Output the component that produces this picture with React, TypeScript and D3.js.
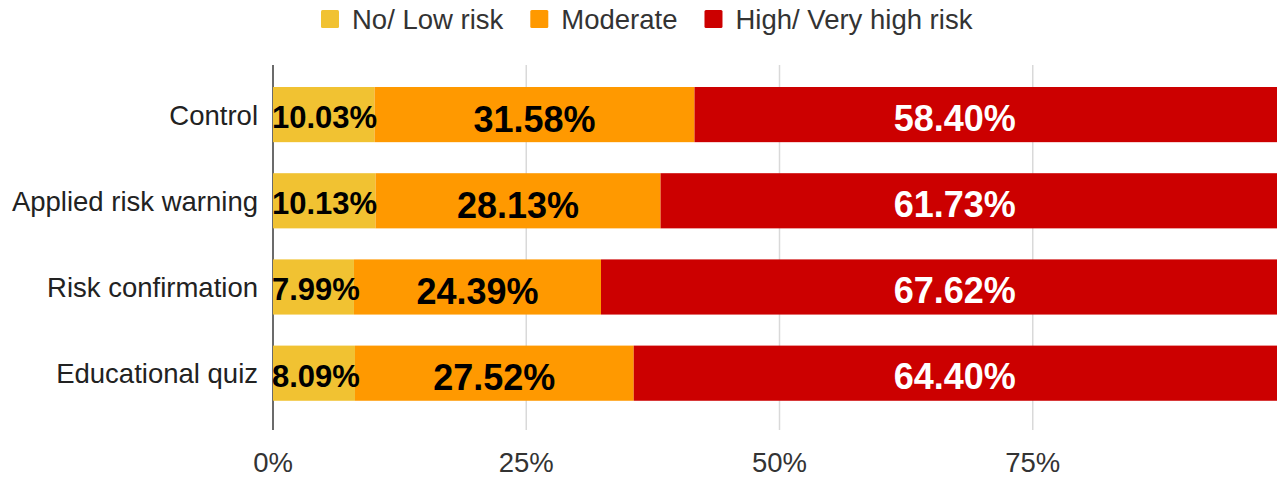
import React, { useEffect, useRef } from "react";
import * as d3 from "d3";

// Share of participants by risk level, per experimental condition (percent)
const categories = ["Control", "Applied risk warning", "Risk confirmation", "Educational quiz"];
const lowRisk = [10.03, 10.13, 7.99, 8.09];
const moderate = [31.58, 28.13, 24.39, 27.52];
const highRisk = [58.4, 61.73, 67.62, 64.4];
const seriesNames = ["No/ Low risk", "Moderate", "High/ Very high risk"];
const seriesKeys = ["low", "moderate", "high"];
const xTicks = [0, 25, 50, 75];

const WIDTH = 1277;
const HEIGHT = 477;
const FONT = "'Liberation Sans', Arial, sans-serif";
const COLORS: Record<string, string> = { low: "#f1c232", moderate: "#ff9900", high: "#cc0000" };

export default function App() {
  const ref = useRef<SVGSVGElement>(null);

  useEffect(() => {
    const svg = d3.select(ref.current);
    svg.selectAll("*").remove();

    const rows = categories.map((c, i) => ({
      category: c,
      low: lowRisk[i],
      moderate: moderate[i],
      high: highRisk[i],
    }));

    const x = d3.scaleLinear().domain([0, 100]).range([273, 1286]);
    const step = 86.2;
    const y = d3
      .scaleBand<string>()
      .domain(categories)
      .range([87 - 0.18 * step, 87 - 0.18 * step + 4 * step])
      .paddingInner(0.36)
      .paddingOuter(0.18);

    const axisTop = 65;
    const axisBottom = 430;

    // vertical gridlines
    svg
      .append("g")
      .selectAll("line")
      .data(xTicks.filter((t) => t !== 0))
      .join("line")
      .attr("x1", (d) => x(d))
      .attr("x2", (d) => x(d))
      .attr("y1", axisTop)
      .attr("y2", axisBottom)
      .attr("stroke", "#d9d9d9")
      .attr("stroke-width", 1.5);

    // zero baseline
    svg
      .append("line")
      .attr("x1", x(0))
      .attr("x2", x(0))
      .attr("y1", axisTop)
      .attr("y2", axisBottom)
      .attr("stroke", "#6b6b6b")
      .attr("stroke-width", 2);

    const stacked = d3.stack<any>().keys(seriesKeys)(rows);

    // stacked bars
    const layers = svg
      .append("g")
      .selectAll("g")
      .data(stacked)
      .join("g")
      .attr("fill", (d) => COLORS[d.key]);

    layers
      .selectAll("rect")
      .data((d) => d)
      .join("rect")
      .attr("x", (d) => x(d[0]))
      .attr("y", (d) => y(d.data.category)!)
      .attr("width", (d) => x(d[1]) - x(d[0]))
      .attr("height", y.bandwidth());

    // value labels
    const labels = svg.append("g").attr("font-family", FONT).attr("font-weight", "bold");
    const redLabelAt = 67.3;
    stacked.forEach((layer) => {
      layer.forEach((seg) => {
        const cy = y(seg.data.category)! + y.bandwidth() / 2;
        const value = seg[1] - seg[0];
        const text = labels.append("text").text(`${(seg.data[layer.key] as number).toFixed(2)}%`);
        if (layer.key === "low") {
          text
            .attr("x", x(0) - 1)
            .attr("y", cy + 13.5)
            .attr("font-size", 31)
            .attr("fill", "#000")
            .attr("text-anchor", "start");
        } else if (layer.key === "moderate") {
          text
            .attr("x", x(seg[0] + value / 2))
            .attr("y", cy + 17)
            .attr("font-size", 36)
            .attr("fill", "#000")
            .attr("text-anchor", "middle");
        } else {
          text
            .attr("x", x(redLabelAt))
            .attr("y", cy + 16)
            .attr("font-size", 36)
            .attr("fill", "#fff")
            .attr("text-anchor", "middle");
        }
      });
    });

    // category labels
    svg
      .append("g")
      .selectAll("text")
      .data(categories)
      .join("text")
      .attr("x", 258)
      .attr("y", (d) => y(d)! + y.bandwidth() / 2 + 10)
      .attr("text-anchor", "end")
      .attr("font-family", FONT)
      .attr("font-size", 27.5)
      .attr("fill", "#222")
      .text((d) => d);

    // x tick labels
    svg
      .append("g")
      .selectAll("text")
      .data(xTicks)
      .join("text")
      .attr("x", (d) => x(d))
      .attr("y", 472)
      .attr("text-anchor", "middle")
      .attr("font-family", FONT)
      .attr("font-size", 27.5)
      .attr("fill", "#333")
      .text((d) => `${d}%`);

    // legend
    const legend = svg.append("g").attr("font-family", FONT).attr("font-size", 27.5);
    let lx = 321;
    seriesKeys.forEach((k, i) => {
      legend
        .append("rect")
        .attr("x", lx)
        .attr("y", 10)
        .attr("width", 18)
        .attr("height", 18)
        .attr("rx", 1.5)
        .attr("fill", COLORS[k]);
      const t = legend
        .append("text")
        .attr("x", lx + 31)
        .attr("y", 29)
        .attr("fill", "#333")
        .text(seriesNames[i]);
      const w = (t.node() as SVGTextElement).getComputedTextLength();
      lx = lx + 31 + w + 27;
    });
  }, []);

  return (
    <svg
      ref={ref}
      width={WIDTH}
      height={HEIGHT}
      style={{ position: "absolute", left: 0, top: 0, background: "#fff" }}
    />
  );
}
